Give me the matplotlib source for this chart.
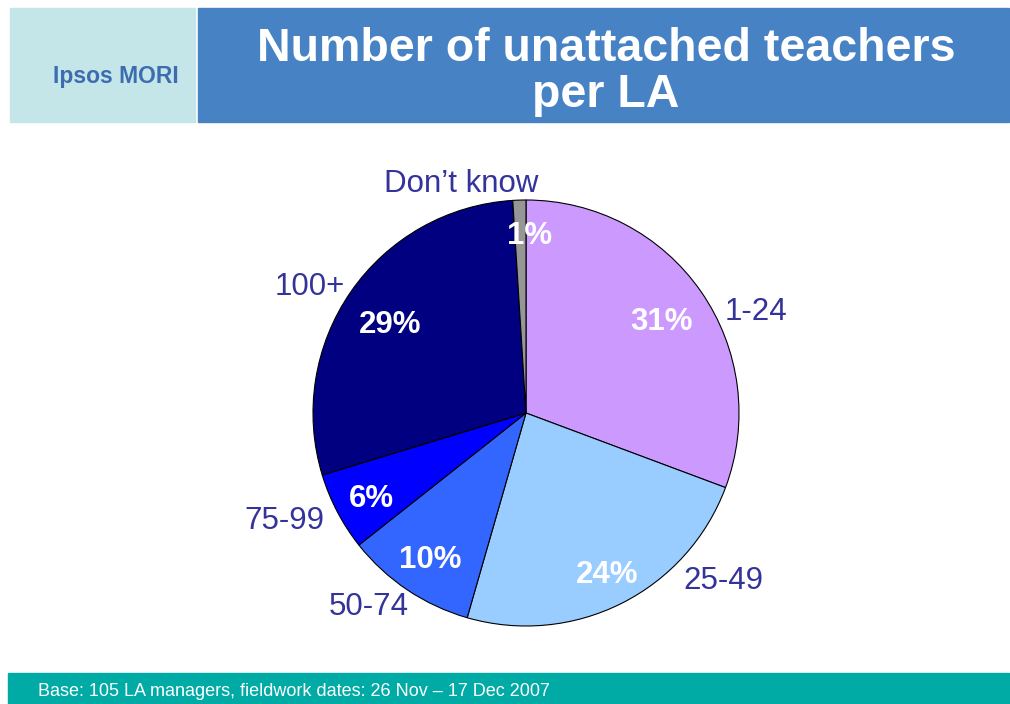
import matplotlib
matplotlib.use('Agg')
import matplotlib.pyplot as plt
from matplotlib.patches import Rectangle

# survey results (percent of LA managers)
categories = ["1-24", "25-49", "50-74", "75-99", "100+", "Don\u2019t know"]
shares = [31, 24, 10, 6, 29, 1]
colors = ["#CC99FF", "#99CCFF", "#3366FF", "#0000FF", "#000080", "#969696"]

# label positions in pixels (x, y from top)
cat_pos = [(756, 312), (723, 581), (369, 607), (284, 521), (310, 287), (461, 184)]
pct_pos = [(662, 322), (607, 575), (430, 560), (371, 499), (390, 325), (530, 236)]

W, H = 1010, 704
fig = plt.figure(figsize=(W / 100, H / 100), dpi=100)
ax = fig.add_axes([0, 0, 1, 1])

font = "Liberation Sans"

# header boxes
ax.add_patch(Rectangle((10, H - 122), 185, 114, color="#C4E6E8", zorder=1))
ax.add_patch(Rectangle((198, H - 122), 811, 114, color="#4682C4", zorder=1))
ax.text(116, H - 76, "Ipsos MORI", color="#3D6DB0", fontsize=16.5, fontweight="bold",
        family=font, ha="center", va="center")
ax.text(606, H - 72, "Number of unattached teachers\nper LA", color="white",
        fontsize=33.5, fontweight="bold", family=font, ha="center", va="center",
        linespacing=1.08)

# footer band
ax.add_patch(Rectangle((8, 0), 1001, 31, color="#00AAA5", zorder=1))
ax.text(38, 13, "Base: 105 LA managers, fieldwork dates: 26 Nov \u2013 17 Dec 2007",
        color="white", fontsize=13, family=font, ha="left", va="center")

# pie
ax.pie(shares, colors=colors, startangle=90, counterclock=False,
       center=(526, H - 413), radius=213, frame=True,
       wedgeprops=dict(edgecolor="black", linewidth=0.8))
ax.set_xlim(0, W)
ax.set_ylim(0, H)
ax.set_aspect("equal")
ax.axis("off")

for name, val, (cx, cy), (px, py) in zip(categories, shares, cat_pos, pct_pos):
    ax.text(cx, H - cy, name, color="#333399", fontsize=22.5, family=font,
            ha="center", va="center")
    ax.text(px, H - py, f"{val}%", color="white", fontsize=22.5, fontweight="bold",
            family=font, ha="center", va="center")

fig.savefig("out.png", dpi=100)
